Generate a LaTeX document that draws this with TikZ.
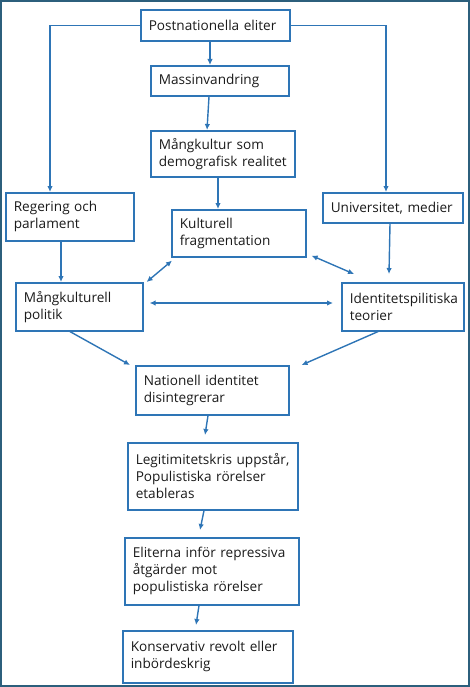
\documentclass[tikz,border=0pt]{standalone}
\usepackage{fontspec}
\setmainfont{Open Sans}[Ligatures=NoCommon]
\usetikzlibrary{calc,arrows.meta}
\definecolor{boxblue}{HTML}{2E75B6}
\definecolor{framec}{HTML}{2C5F7C}
\definecolor{txt}{HTML}{1A1A1A}
\begin{document}
\begin{tikzpicture}[x=1pt,y=-1pt,
  fbox/.style={draw=boxblue,line width=1.6pt,anchor=north west,inner xsep=8pt,inner ysep=0pt,
    align=left,text=txt,font=\fontsize{13.6}{17}\selectfont},
  conn/.style={draw=boxblue,line width=1.4pt,-{Latex[length=6pt,width=5.5pt]}},
  dconn/.style={draw=boxblue,line width=1.4pt,{Latex[length=6pt,width=5.5pt]}-{Latex[length=6pt,width=5.5pt]}}]
\useasboundingbox (0,0) rectangle (470,687);
\draw[framec,line width=1.6pt] (1,1) rectangle (469,686);
\newcommand{\fnode}[7]{\node[fbox,minimum width=#4pt,minimum height=#5pt,text width=#6pt] (#1) at (#2,#3) {#7};}
\fnode{pe}{140}{9}{149}{31}{133}{Postnationella eliter}
\fnode{mi}{150}{65}{138}{30}{122}{Massinvandring}
\fnode{mk}{150}{130}{144}{46}{128}{Mångkultur som\\demografisk realitet}
\fnode{rp}{5}{192}{128}{48}{112}{Regering och\\parlament}
\fnode{um}{322}{192}{140}{30}{124}{Universitet, medier}
\fnode{kf}{171}{209}{134}{47}{118}{Kulturell\\fragmentation}
\fnode{mp}{15}{282}{127}{48}{111}{Mångkulturell\\politik}
\fnode{it}{341}{282}{122}{48}{106}{Identitetspilitiska\\teorier}
\fnode{ni}{135}{365}{153}{49}{137}{Nationell identitet\\disintegrerar}
\fnode{lk}{127}{442}{170}{67}{154}{Legitimitetskris uppstår,\\Populistiska rörelser\\etableras}
\fnode{el}{124}{537}{174}{67}{158}{Eliterna inför repressiva\\åtgärder mot\\populistiska rörelser}
\fnode{ko}{122}{630}{170}{52}{154}{Konservativ revolt eller\\inbördeskrig}
\draw[conn] (pe.west) -| ($(rp.north west)+(45,0)$);
\draw[conn] (pe.east) -| ($(um.north west)+(64,0)$);
\draw[conn] ($(pe.south west)+(70,0)$) -- ($(mi.north west)+(60,0)$);
\draw[conn] ($(mi.south west)+(59,0)$) -- ($(mk.north west)+(57,0)$);
\draw[conn] ($(mk.south west)+(68,0)$) -- ($(kf.north west)+(47,0)$);
\draw[conn] ($(rp.south west)+(56,0)$) -- ($(mp.north west)+(46,0)$);
\draw[conn] ($(um.south west)+(68,0)$) -- ($(it.north west)+(48,-8)$);
\draw[dconn] ($(kf.south west)+(1,3)$) -- ($(mp.north east)+(3,0)$);
\draw[dconn] ($(kf.south east)+(5,-2)$) -- ($(it.north west)+(13,-8)$);
\draw[dconn] ($(mp.north east)+(6,21)$) -- ($(it.north west)+(-8,21)$);
\draw[conn] ($(mp.south west)+(55,0)$) -- ($(ni.north west)+(-5,0)$);
\draw[conn] ($(it.south west)+(37,0)$) -- ($(ni.north east)+(12,0)$);
\draw[conn] ($(ni.south west)+(73,0)$) -- ($(lk.north west)+(78,-7)$);
\draw[conn] ($(lk.south west)+(77,0)$) -- ($(el.north west)+(76,-7)$);
\draw[conn] ($(el.south west)+(75,0)$) -- ($(ko.north west)+(74,-5)$);
\end{tikzpicture}
\end{document}
